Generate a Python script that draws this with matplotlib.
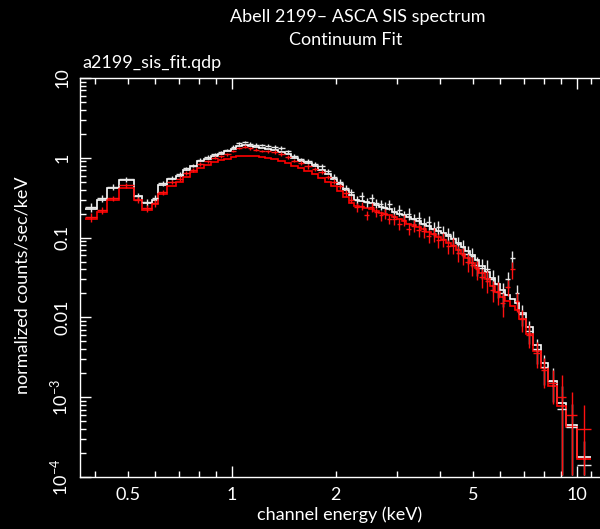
import numpy as np
import matplotlib
matplotlib.use("Agg")
import matplotlib.pyplot as plt
from matplotlib.ticker import FixedLocator, FixedFormatter, NullFormatter

plt.rcParams["font.family"] = ["Lato", "DejaVu Sans"]
plt.rcParams["mathtext.fontset"] = "custom"
plt.rcParams["mathtext.rm"] = "Lato"

# ---------------- data ----------------
edges = [0.375, 0.405, 0.435, 0.47, 0.52, 0.55, 0.585, 0.61, 0.65, 0.69,
         0.72, 0.755, 0.79, 0.83, 0.87, 0.91, 0.95, 0.99, 1.03, 1.07,
         1.11, 1.15, 1.20, 1.25, 1.30, 1.36, 1.42, 1.48, 1.55, 1.62,
         1.70, 1.78, 1.86, 1.94, 2.02, 2.10, 2.18, 2.26, 2.34, 2.42,
         2.50, 2.58, 2.66, 2.74, 2.82, 2.90, 3.00, 3.10, 3.20, 3.30,
         3.42, 3.54, 3.66, 3.78, 3.90, 4.03, 4.16, 4.30, 4.45, 4.60,
         4.75, 4.90, 5.05, 5.20, 5.40, 5.60, 5.80, 6.00, 6.20, 6.40,
         6.60, 6.80, 7.10, 7.45, 7.85, 8.25, 8.75, 9.30, 10.0, 11.0]

sis0_counts = [0.24, 0.31, 0.43, 0.54, 0.33, 0.28, 0.31, 0.48,
               0.56, 0.62, 0.74, 0.80, 0.95, 1.02, 1.12, 1.18, 1.25, 1.38, 1.52, 1.58,
               1.50, 1.46, 1.45, 1.42, 1.36, 1.33, 1.20, 1.05, 0.96, 0.90, 0.84, 0.78, 0.68, 0.58,
               0.50, 0.42, 0.37, 0.30, 0.33, 0.28, 0.31, 0.27, 0.26, 0.24, 0.26, 0.21, 0.22, 0.19, 0.20, 0.17,
               0.175, 0.15, 0.155, 0.13, 0.135, 0.115, 0.11, 0.10, 0.082, 0.076, 0.062, 0.058, 0.045, 0.042,
               0.040, 0.030, 0.026, 0.020,
               0.030, 0.055, 0.020, 0.011, 0.0068, 0.0040, 0.0024, 0.0016, 0.00072, 0.00042, 0.00014]

sis0_model = [0.23, 0.30, 0.42, 0.52, 0.33, 0.27, 0.30, 0.46,
              0.55, 0.60, 0.70, 0.78, 0.90, 0.98, 1.06, 1.12, 1.20, 1.30, 1.40, 1.44,
              1.42, 1.38, 1.34, 1.30, 1.24, 1.18, 1.10, 1.00, 0.92, 0.85, 0.78, 0.71, 0.63, 0.55,
              0.47, 0.40, 0.34, 0.30, 0.29, 0.28, 0.27, 0.255, 0.245, 0.235, 0.225, 0.21, 0.20, 0.19, 0.18, 0.17,
              0.16, 0.15, 0.14, 0.13, 0.122, 0.113, 0.104, 0.095, 0.086, 0.077, 0.068, 0.060, 0.052, 0.044,
              0.037, 0.031, 0.026, 0.022,
              0.019, 0.017, 0.015, 0.0115, 0.0075, 0.0045, 0.0027, 0.0016, 0.00085, 0.00045, 0.00018]

sis1_counts = [0.18, 0.22, 0.31, 0.45, 0.30, 0.235, 0.27, 0.37,
               0.50, 0.55, 0.65, 0.70, 0.84, 0.90, 1.00, 1.05, 1.10, 1.22, 1.33, 1.38,
               1.32, 1.26, 1.22, 1.20, 1.18, 1.12, 1.02, 0.92, 0.86, 0.78, 0.72, 0.66, 0.58, 0.50,
               0.44, 0.36, 0.30, 0.24, 0.25, 0.19, 0.24, 0.21, 0.19, 0.20, 0.17, 0.17, 0.15, 0.165, 0.13, 0.14,
               0.125, 0.12, 0.105, 0.11, 0.092, 0.095, 0.078, 0.08, 0.064, 0.060, 0.050, 0.045, 0.040, 0.032,
               0.029, 0.022, 0.021, 0.015,
               0.024, 0.040, 0.016, 0.0095, 0.0060, 0.0036, 0.0022, 0.0015, 0.0010, 0.0006, 0.0004]

sis1_model = [0.17, 0.21, 0.30, 0.42, 0.30, 0.22, 0.26, 0.35,
              0.44, 0.50, 0.58, 0.66, 0.74, 0.82, 0.88, 0.93, 0.97, 1.01, 1.04, 1.05,
              1.05, 1.04, 1.02, 1.00, 0.96, 0.92, 0.86, 0.80, 0.74, 0.68, 0.62, 0.56, 0.50, 0.44,
              0.38, 0.32, 0.27, 0.25, 0.24, 0.235, 0.225, 0.215, 0.205, 0.195, 0.19, 0.18, 0.17, 0.16, 0.15, 0.143,
              0.135, 0.127, 0.118, 0.11, 0.102, 0.094, 0.086, 0.078, 0.070, 0.062, 0.055, 0.048, 0.042, 0.036,
              0.030, 0.025, 0.021, 0.018,
              0.016, 0.014, 0.0125, 0.0095, 0.0062, 0.0038, 0.0023, 0.0014, 0.00078, 0.00042, 0.00017]

rel_err = [0.12, 0.10, 0.08, 0.07, 0.09, 0.10, 0.10, 0.08,
           0.06, 0.06, 0.05, 0.05, 0.05, 0.05, 0.04, 0.04, 0.04, 0.04, 0.04, 0.04,
           0.04, 0.04, 0.04, 0.04, 0.05, 0.05, 0.05, 0.05, 0.05, 0.06, 0.06, 0.06, 0.06, 0.07,
           0.08, 0.09, 0.10, 0.12, 0.12, 0.13, 0.12, 0.13, 0.14, 0.15, 0.14, 0.15, 0.16, 0.15, 0.16, 0.17,
           0.18, 0.18, 0.19, 0.19, 0.20, 0.20, 0.21, 0.22, 0.23, 0.24, 0.25, 0.26, 0.27, 0.28,
           0.30, 0.30, 0.32, 0.33,
           0.22, 0.25, 0.28, 0.30, 0.32, 0.35, 0.40, 0.45, 0.90, 0.95, 0.99]

x_major = [1, 10]
x_minor = [0.4, 0.5, 0.6, 0.7, 0.8, 0.9, 2, 3, 4, 5, 6, 7, 8, 9, 11]
x_label_pos = [0.5, 1, 2, 5, 10]
x_label_txt = ["0.5", "1", "2", "5", "10"]
y_major = [1e-4, 1e-3, 1e-2, 1e-1, 1, 10]
y_label_txt = [r"10$^{-4}$", r"10$^{-3}$", "0.01", "0.1", "1", "10"]

# ---------------- figure ----------------
W, H = 600, 529
fig = plt.figure(figsize=(W / 100, H / 100), dpi=100, facecolor="black")
ax = fig.add_axes([80 / W, 1 - 477 / H, (600 - 80) / W, (477 - 78) / H])
ax.set_facecolor("black")
ax.set_xscale("log")
ax.set_yscale("log")
ax.set_xlim(0.3625, 11.66)
ax.set_ylim(1e-4, 10)

e = np.array(edges)
lo, hi = e[:-1], e[1:]
xc = np.sqrt(lo * hi)
rel = np.array(rel_err)


def draw(counts, model, color, ecolor):
    y = np.array(counts)
    err = y * rel
    low = np.minimum(err, y - 1.05e-4)
    ax.errorbar(xc, y, xerr=[xc - lo, hi - xc], yerr=[low, err], fmt="none",
                ecolor=ecolor, elinewidth=1.0, capsize=0)
    ax.stairs(model, e, color=color, lw=1.2, baseline=None)


draw(sis0_counts, sis0_model, "white", "#e8e8e8")
draw(sis1_counts, sis1_model, "#ff0000", "#ff1010")

for s in ["left", "bottom", "top"]:
    ax.spines[s].set_color("white")
    ax.spines[s].set_linewidth(1.0)
ax.spines["right"].set_visible(False)

ax.xaxis.set_major_locator(FixedLocator(x_major))
ax.xaxis.set_minor_locator(FixedLocator(x_minor))
ax.xaxis.set_major_formatter(NullFormatter())
ax.xaxis.set_minor_formatter(NullFormatter())
ax.tick_params(axis="x", which="both", direction="in", colors="white",
               top=True, bottom=True, labelbottom=False)
ax.tick_params(axis="x", which="major", length=8, width=1)
ax.tick_params(axis="x", which="minor", length=4, width=1)
for xv, t in zip(x_label_pos, x_label_txt):
    ax.text(xv, -0.025, t, transform=ax.get_xaxis_transform(), color="white",
            ha="center", va="top", fontsize=13)

ax.yaxis.set_major_locator(FixedLocator(y_major))
ax.yaxis.set_major_formatter(FixedFormatter(y_label_txt))
ax.tick_params(axis="y", which="both", direction="in", colors="white",
               left=True, right=False)
ax.tick_params(axis="y", which="major", length=8, width=1, pad=7, labelsize=13)
ax.tick_params(axis="y", which="minor", length=4, width=1)
for lab in ax.get_yticklabels():
    lab.set_rotation(90)
    lab.set_va("center")

ax.set_xlabel("channel energy (keV)", color="white", fontsize=13)
ax.xaxis.set_label_coords(0.5, -0.075)
ax.set_ylabel("normalized counts/sec/keV", color="white", fontsize=13)
ax.yaxis.set_label_coords(-0.095, 0.48)

fig.text(358 / W, 1 - 17 / H, "Abell 2199\u2013 ASCA SIS spectrum", color="white",
         ha="center", va="center", fontsize=13)
fig.text(346 / W, 1 - 40 / H, "Continuum Fit", color="white",
         ha="center", va="center", fontsize=13)
fig.text(82 / W, 1 - 63 / H, "a2199_sis_fit.qdp", color="white",
         ha="left", va="center", fontsize=13)

fig.savefig("out.png", dpi=100, facecolor="black")
